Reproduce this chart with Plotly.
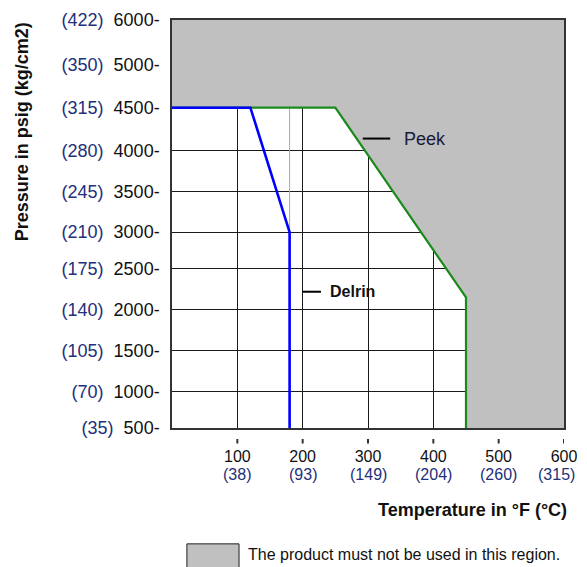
import numpy as np
import plotly.graph_objects as go

# ---- data ----
temp_ticks_f = [100, 200, 300, 400, 500, 600]
temp_ticks_c = [38, 93, 149, 204, 260, 315]
press_ticks_psi = [500, 1000, 1500, 2000, 2500, 3000, 3500, 4000, 4500, 5000, 6000]
press_ticks_kg = [35, 70, 105, 140, 175, 210, 245, 280, 315, 350, 422]

delrin_t = [0, 120, 180, 180]
delrin_p = [4500, 4500, 3000, 500]

peek_t = [0, 250, 450, 450]
peek_p = [4500, 4500, 2150, 500]

# ---- axis scale (chart uses an irregular pressure scale) ----
y_scale_pos = [0, 0.9, 1.9, 2.9, 3.9, 4.8, 5.8, 6.8, 7.85, 8.9, 10]


def ypos(p):
    return np.interp(p, press_ticks_psi, y_scale_pos)


NAVY = "#23307a"
FONT = "Liberation Sans, Arial, sans-serif"

fig = go.Figure()

# forbidden region (gray) : above the Peek limit curve
gx = [0] + peek_t + [600, 600, 0]
gp = [6000] + peek_p + [500, 6000, 6000]
fig.add_trace(go.Scatter(x=gx, y=ypos(gp), mode="lines", fill="toself",
                         fillcolor="#c0c0c0", line=dict(width=0),
                         hoverinfo="skip", showlegend=False))

# thin light-gray vertical guide along Delrin max temperature
fig.add_trace(go.Scatter(x=[delrin_t[-1], delrin_t[-1]], y=ypos([4500, 500]),
                         mode="lines", line=dict(color="#a8a8a8", width=1),
                         hoverinfo="skip", showlegend=False))

fig.add_trace(go.Scatter(x=peek_t, y=ypos(peek_p), mode="lines",
                         line=dict(color="#1a8a1a", width=2.2), showlegend=False))
fig.add_trace(go.Scatter(x=delrin_t, y=ypos(delrin_p), mode="lines",
                         line=dict(color="#0000ff", width=2.6), showlegend=False))

xt = [str(f) for f in temp_ticks_f]
yt = [f"<span style='color:{NAVY}'>({k})</span>\u00a0\u00a0{p}-" for p, k in zip(press_ticks_psi, press_ticks_kg)]

fig.update_layout(
    width=587, height=567,
    margin=dict(l=172, r=23, t=20, b=139, autoexpand=False),
    paper_bgcolor="white", plot_bgcolor="white",
    font=dict(family=FONT, color="#111111"),
    xaxis=dict(range=[0, 600], tickvals=temp_ticks_f, ticktext=xt, automargin=False,
               tickfont=dict(size=16), showgrid=True, gridcolor="#1a1a1a", gridwidth=1,
               zeroline=False, showline=True, linecolor="#333", linewidth=1.5,
               mirror=True, ticks="", ticklabelstandoff=13),
    yaxis=dict(range=[0, 10], tickvals=y_scale_pos, ticktext=yt, automargin=False,
               tickfont=dict(size=18), showgrid=True, gridcolor="#1a1a1a", gridwidth=1,
               zeroline=False, showline=True, linecolor="#333", linewidth=1.5,
               mirror=True, ticks="", ticklabelstandoff=7),
)

shapes = []
# small tick marks below the x axis
for t in temp_ticks_f:
    shapes.append(dict(type="line", xref="x", yref="paper", x0=t, x1=t,
                       y0=-0.027, y1=-0.038, line=dict(color="#333", width=2)))
# label leader lines
shapes.append(dict(type="line", xref="x", yref="y", x0=292, x1=334,
                   y0=float(ypos(4140)), y1=float(ypos(4140)), line=dict(color="black", width=2)))
shapes.append(dict(type="line", xref="x", yref="y", x0=200, x1=228,
                   y0=float(ypos(2220)), y1=float(ypos(2220)), line=dict(color="black", width=2)))
# legend box
shapes.append(dict(type="rect", xref="paper", yref="paper", x0=0.038, x1=0.171,
                   y0=-0.37, y1=-0.284, fillcolor="#c0c0c0", line=dict(color="#222", width=1)))
fig.update_layout(shapes=shapes)

ann = []
# Celsius equivalents under the Fahrenheit tick labels
for i, (f, c) in enumerate(zip(temp_ticks_f, temp_ticks_c)):
    last = i == len(temp_ticks_f) - 1
    ann.append(dict(text=f"({c})", x=1.033 if last else f, xref="paper" if last else "x",
                    y=-0.115, yref="paper", xanchor="right" if last else "center",
                    yanchor="middle", showarrow=False, font=dict(size=16, color=NAVY)))
ann += [
    dict(text="Peek", x=352, y=float(ypos(4140)), xref="x", yref="y", xanchor="left",
         yanchor="middle", showarrow=False, font=dict(size=18, color="#1a1a3a")),
    dict(text="<b>Delrin</b>", x=239, y=float(ypos(2220)), xref="x", yref="y", xanchor="left",
         yanchor="middle", showarrow=False, font=dict(size=16, color="#111")),
    dict(text="<b>Temperature in °F (°C)</b>", x=1.013, y=-0.201, xref="paper", yref="paper",
         xanchor="right", yanchor="middle", showarrow=False, font=dict(size=18, color="#111")),
    dict(text="<b>Pressure in psig (kg/cm2)</b>", x=-0.383, y=1.0, xref="paper", yref="paper",
         xanchor="center", yanchor="top", textangle=-90, showarrow=False,
         font=dict(size=18, color="#111")),
    dict(text="The product must not be used in this region.", x=0.189, y=-0.311,
         xref="paper", yref="paper", xanchor="left", yanchor="middle", showarrow=False,
         font=dict(size=16, color="#111")),
]
fig.update_layout(annotations=ann)

fig.write_html("out.html", config={"displayModeBar": False},
               post_script="document.body.style.margin='0';document.body.style.overflow='hidden';")
